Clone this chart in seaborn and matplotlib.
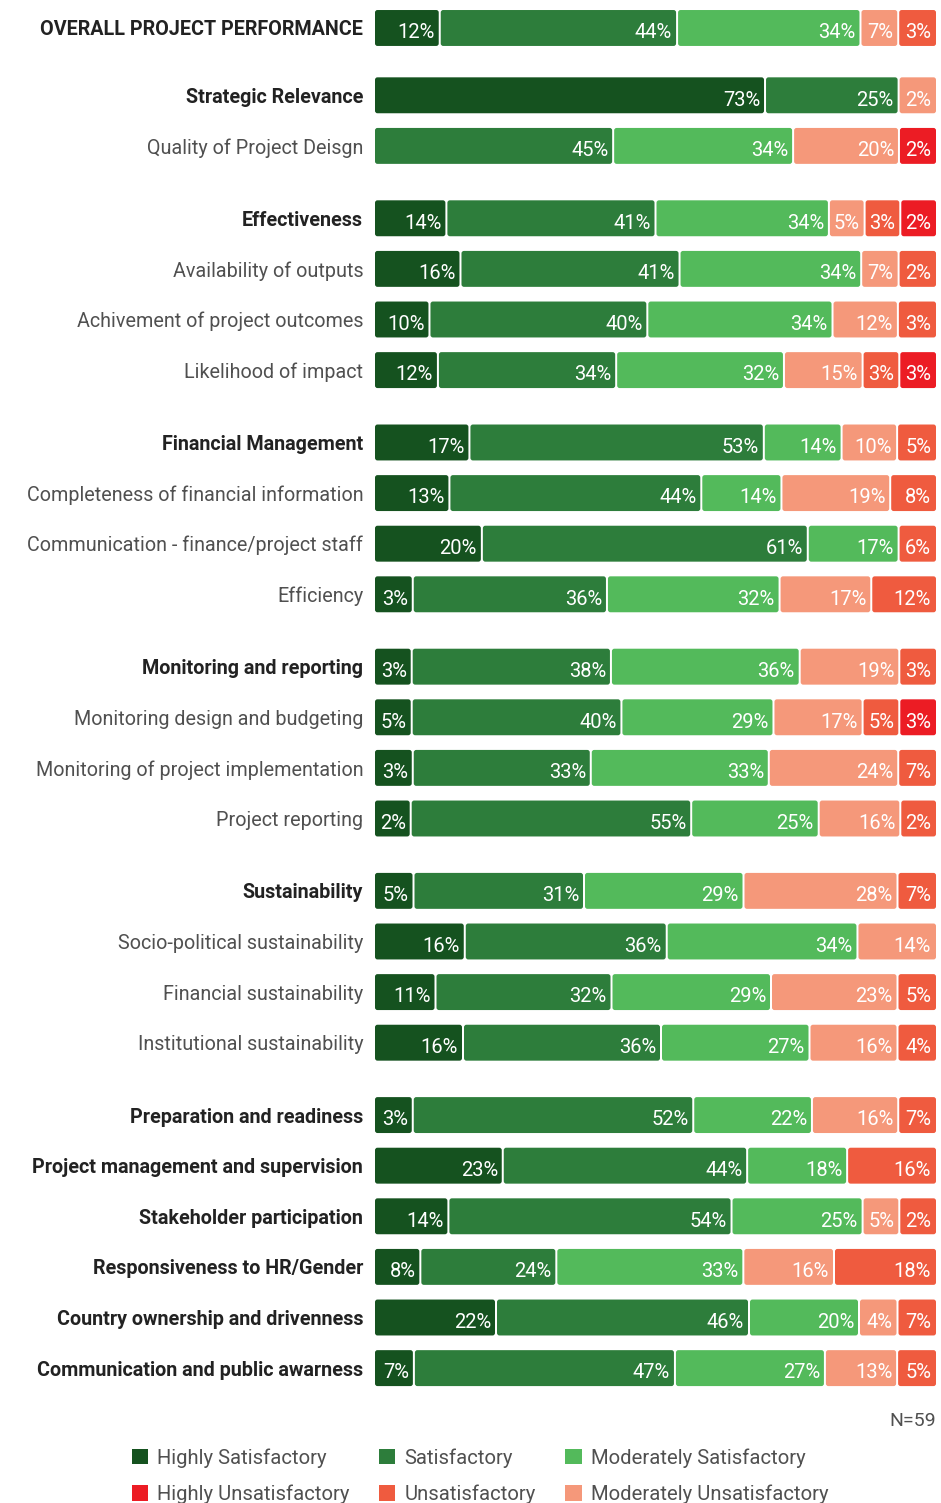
import numpy as np
import pandas as pd
import matplotlib.pyplot as plt
import seaborn as sns
from matplotlib.patches import FancyBboxPatch, Patch

# Row labels (top to bottom)
labels = [
    'OVERALL PROJECT PERFORMANCE',
    'Strategic Relevance', 'Quality of Project Deisgn',
    'Effectiveness', 'Availability of outputs', 'Achivement of project outcomes', 'Likelihood of impact',
    'Financial Management', 'Completeness of financial information',
    'Communication - finance/project staff', 'Efficiency',
    'Monitoring and reporting', 'Monitoring design and budgeting',
    'Monitoring of project implementation', 'Project reporting',
    'Sustainability', 'Socio-political sustainability', 'Financial sustainability',
    'Institutional sustainability',
    'Preparation and readiness', 'Project management and supervision', 'Stakeholder participation',
    'Responsiveness to HR/Gender', 'Country ownership and drivenness',
    'Communication and public awarness',
]
bold_rows = [
    'OVERALL PROJECT PERFORMANCE', 'Strategic Relevance', 'Effectiveness', 'Financial Management',
    'Monitoring and reporting', 'Sustainability', 'Preparation and readiness',
    'Project management and supervision', 'Stakeholder participation', 'Responsiveness to HR/Gender',
    'Country ownership and drivenness', 'Communication and public awarness',
]
# Number of rows in each block
group_sizes = [1, 2, 4, 4, 4, 4, 6]

# Rating categories and their percentages
ratings = ['Highly Satisfactory', 'Satisfactory', 'Moderately Satisfactory',
           'Moderately Unsatisfactory', 'Unsatisfactory', 'Highly Unsatisfactory']
highly_sat = [12, 73, 0, 14, 16, 10, 12, 17, 13, 20, 3, 3, 5, 3, 2, 5, 16, 11, 16, 3, 23, 14, 8, 22, 7]
sat = [44, 25, 45, 41, 41, 40, 34, 53, 44, 61, 36, 38, 40, 33, 55, 31, 36, 32, 36, 52, 44, 54, 24, 46, 47]
mod_sat = [34, 0, 34, 34, 34, 34, 32, 14, 14, 17, 32, 36, 29, 33, 25, 29, 34, 29, 27, 22, 18, 25, 33, 20, 27]
mod_unsat = [7, 2, 20, 5, 7, 12, 15, 10, 19, 0, 17, 19, 17, 24, 16, 28, 14, 23, 16, 16, 0, 5, 16, 4, 13]
unsat = [3, 0, 0, 3, 2, 3, 3, 5, 8, 6, 12, 3, 5, 7, 2, 7, 0, 5, 4, 7, 16, 2, 18, 7, 5]
highly_unsat = [0, 0, 2, 2, 0, 0, 3, 0, 0, 0, 0, 0, 3, 0, 0, 0, 0, 0, 0, 0, 0, 0, 0, 0, 0]
n_label = 'N=59'

colors = ['#15521f', '#2d7d3b', '#53ba5b', '#f5987a', '#ef5b3f', '#ec1c24']

# Layout settings
block_gaps = [0.33, 0.43, 0.43, 0.43, 0.43, 0.43, 0]
bar_h = 0.71
min_w = 7

sns.set_theme(style='white')
plt.rcParams['font.family'] = ['Roboto', 'DejaVu Sans']

# Row positions with gaps between blocks
pos = []
y = 0.0
for n, g in zip(group_sizes, block_gaps):
    for i in range(n):
        pos.append(y)
        y += 1
    y += g
pos = np.array(pos)

# Segment widths: small segments get a minimum width so labels fit
vals = np.array([highly_sat, sat, mod_sat, mod_unsat, unsat, highly_unsat], dtype=float)
disp = np.where(vals > 0, np.maximum(vals, min_w), 0)
disp = disp / disp.sum(axis=0) * 100
cum = disp.cumsum(axis=0)

fig = plt.figure(figsize=(9.41, 15.03), dpi=100, facecolor='w')
ax_left, ax_w = 375 / 941, 561 / 941
ax_bottom = 1 - 1400 / 1503
ax = fig.add_axes([ax_left, ax_bottom, ax_w, 1 - ax_bottom])
ylim = (27.11, -0.553)

# Stacked bars: draw cumulative totals from the largest down
layer_patches = {}
for k in range(len(ratings) - 1, -1, -1):
    df = pd.DataFrame({'pos': pos, 'cum': cum[k]})
    before = len(ax.patches)
    sns.barplot(data=df, x='cum', y='pos', orient='y', native_scale=True, color=colors[k],
                width=bar_h, saturation=1, errorbar=None, linewidth=0, ax=ax)
    layer_patches[k] = list(ax.patches[before:])

ax.set_xlim(0, 100)
ax.set_ylim(*ylim)

# Replace flat bars by rounded segments
x_per_px = 100 / 561
y_per_px = (ylim[0] - ylim[1]) / 1400
r = 2.5 * x_per_px
seg_gap = 1.0 * x_per_px
for k in range(len(ratings)):
    for i, p in enumerate(layer_patches[k]):
        x1 = p.get_width()
        x0 = layer_patches[k - 1][i].get_width() if k > 0 else 0
        y0, h = p.get_y(), p.get_height()
        p.remove()
        if x1 - x0 <= 0:
            continue
        a = x0 + (seg_gap if x0 > 0 else 0)
        b = x1 - (seg_gap if x1 < 99.99 else 0)
        box = FancyBboxPatch((a, y0), b - a, h, boxstyle='round,pad=0,rounding_size={}'.format(r),
                             mutation_aspect=y_per_px / x_per_px, facecolor=colors[k],
                             edgecolor='none', linewidth=0)
        ax.add_patch(box)
        ax.annotate('{:.0f}%'.format(vals[k][i]), xy=(x1, y0 + h / 2), xytext=(-3.5, -3.5),
                    textcoords='offset points', ha='right', va='center', color='white', fontsize=14.5)

# Row labels
ax.set_yticks(pos)
ax.set_yticklabels(labels)
ax.tick_params(axis='y', length=0, pad=8.5)
for t in ax.get_yticklabels():
    if t.get_text() in bold_rows:
        t.set_fontweight('bold')
        t.set_color('#222222')
    else:
        t.set_fontweight('normal')
        t.set_color('#505050')
    t.set_fontsize(14.2)
ax.set_xticks([])
ax.set_xlabel('')
ax.set_ylabel('')
sns.despine(ax=ax, left=True, bottom=True)

fig.text(936 / 941, 1 - 1421 / 1503, n_label, ha='right', va='center', fontsize=14,
         color='#505050')

# Legend (filled column-wise so rows read satisfactory / unsatisfactory)
order = [0, 5, 1, 4, 2, 3]
handles = [Patch(facecolor=colors[k], edgecolor='none', label=ratings[k]) for k in order]
leg = fig.legend(handles=handles, loc='upper left', bbox_to_anchor=(132 / 941, 1 - 1448 / 1503),
                 ncol=3, frameon=False, fontsize=14.6, handlelength=0.8, handleheight=0.8,
                 handletextpad=0.45, columnspacing=1.45, labelspacing=0.85, borderpad=0,
                 borderaxespad=0)
for t in leg.get_texts():
    t.set_color('#505050')

plt.savefig('out.png', dpi=100, facecolor='w')
